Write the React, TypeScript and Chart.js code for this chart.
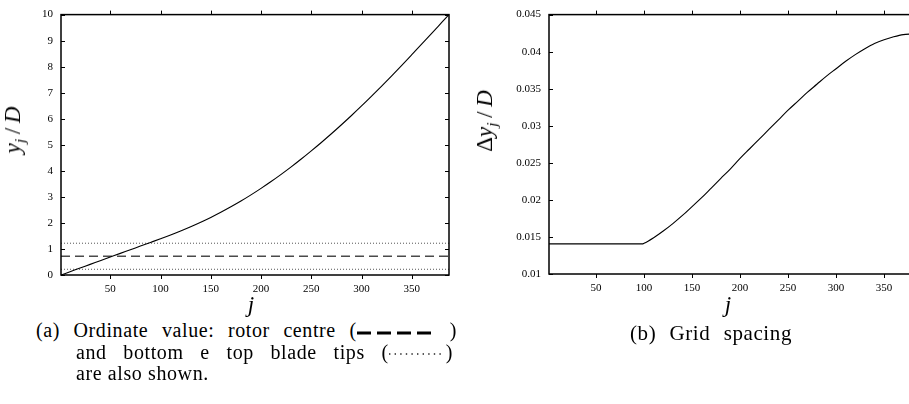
import React, { useEffect, useRef } from "react";
import { Chart, registerables } from "chart.js";

Chart.register(...registerables);

// Grid index samples and ordinate of each grid line, y_j / D
const J_ORDINATE = [
  1, 10, 20, 30, 40, 50, 60, 70, 80, 90, 100, 110, 120, 130, 140, 150, 160, 170, 180, 190,
  200, 210, 220, 230, 240, 250, 260, 270, 280, 290, 300, 310, 320, 330, 340, 350, 360, 370,
  380, 387,
];
const ORDINATE = [
  0, 0.127, 0.267, 0.408, 0.548, 0.689, 0.83, 0.97, 1.111, 1.251, 1.392, 1.537, 1.691, 1.854,
  2.027, 2.212, 2.409, 2.619, 2.841, 3.077, 3.326, 3.588, 3.864, 4.152, 4.454, 4.768, 5.09,
  5.423, 5.769, 6.125, 6.491, 6.868, 7.255, 7.649, 8.051, 8.46, 8.872, 9.288, 9.707, 10.0,
];

// Grid index samples and local spacing, Δy_j / D
const J_SPACING = [
  1, 10, 20, 30, 40, 50, 60, 70, 80, 90, 98, 100, 110, 120, 130, 140, 150, 160, 170, 180, 190,
  200, 210, 220, 230, 240, 250, 260, 270, 280, 290, 300, 310, 320, 330, 340, 350, 360, 370,
  380, 387,
];
const SPACING = [
  0.01406, 0.01406, 0.01406, 0.01406, 0.01406, 0.01406, 0.01406, 0.01406, 0.01406, 0.01406,
  0.01406, 0.01415, 0.0149, 0.0158, 0.0168, 0.0179, 0.0191, 0.0203, 0.0216, 0.0229, 0.0242,
  0.0256, 0.0269, 0.0282, 0.0295, 0.0308, 0.0321, 0.0333, 0.0345, 0.0356, 0.0367, 0.0377,
  0.0387, 0.0396, 0.0404, 0.0411, 0.0416, 0.042, 0.0423, 0.0424, 0.0425,
];

// Rotor centre and blade tip ordinates
const ROTOR_CENTRE = 0.72;
const BLADE_TIPS = [0.22, 1.22];

const J_RANGE = [1, 387];
const J_TICKS = [50, 100, 150, 200, 250, 300, 350];
const ORDINATE_RANGE = [0, 10];
const ORDINATE_TICKS = [0, 1, 2, 3, 4, 5, 6, 7, 8, 9, 10];
const SPACING_RANGE = [0.01, 0.045];
const SPACING_TICKS = [0.01, 0.015, 0.02, 0.025, 0.03, 0.035, 0.04, 0.045];

const SERIF = '"Liberation Serif", "DejaVu Serif", serif';

// Closed frame, x tics pointing out (mirrored on top), y tics pointing in (mirrored on right)
const frameTicks = {
  id: "frameTicks",
  afterDatasetsDraw(chart: any) {
    const { ctx, chartArea: a, scales } = chart;
    ctx.save();
    ctx.strokeStyle = "#000";
    ctx.lineWidth = 1;
    ctx.beginPath();
    for (const t of scales.x.ticks) {
      const px = Math.round(scales.x.getPixelForValue(t.value)) + 0.5;
      ctx.moveTo(px, a.bottom);
      ctx.lineTo(px, a.bottom + 4);
      ctx.moveTo(px, a.top);
      ctx.lineTo(px, a.top - 4);
    }
    for (const t of scales.y.ticks) {
      const py = Math.round(scales.y.getPixelForValue(t.value)) + 0.5;
      ctx.moveTo(a.left, py);
      ctx.lineTo(a.left + 4, py);
      ctx.moveTo(a.right, py);
      ctx.lineTo(a.right - 4, py);
    }
    ctx.stroke();
    ctx.lineWidth = 1.5;
    ctx.strokeRect(a.left, a.top, a.right - a.left, a.bottom - a.top);
    ctx.restore();
  },
};

type Area = { left: number; top: number; right: number; bottom: number };

function Panel(props: {
  width: number;
  height: number;
  area: Area;
  datasets: any[];
  yRange: number[];
  yTicks: number[];
  yFormat: (v: number) => string;
}) {
  const ref = useRef<HTMLCanvasElement>(null);
  const { width, height, area, datasets, yRange, yTicks, yFormat } = props;

  useEffect(() => {
    const tickFont = { family: SERIF, size: 11 };
    const chart = new Chart(ref.current as HTMLCanvasElement, {
      type: "line",
      data: { datasets },
      options: {
        animation: false,
        responsive: false,
        events: [],
        layout: { padding: { left: 0, top: area.top, right: width - area.right, bottom: 0 } },
        plugins: { legend: { display: false }, tooltip: { enabled: false } },
        scales: {
          x: {
            type: "linear",
            min: J_RANGE[0],
            max: J_RANGE[1],
            bounds: "data",
            grid: { display: false, drawTicks: false },
            border: { display: false },
            afterFit: (s: any) => {
              s.height = height - area.bottom;
            },
            afterBuildTicks: (s: any) => {
              s.ticks = J_TICKS.map((v) => ({ value: v }));
            },
            ticks: {
              autoSkip: false,
              maxRotation: 0,
              padding: 8,
              color: "#000",
              font: tickFont,
              callback: (v: any) => String(v),
            },
          },
          y: {
            type: "linear",
            min: yRange[0],
            max: yRange[1],
            bounds: "data",
            grid: { display: false, drawTicks: false },
            border: { display: false },
            afterFit: (s: any) => {
              s.width = area.left;
            },
            afterBuildTicks: (s: any) => {
              s.ticks = yTicks.map((v) => ({ value: v }));
            },
            ticks: {
              autoSkip: false,
              padding: 8,
              color: "#000",
              font: tickFont,
              callback: (v: any) => yFormat(Number(v)),
            },
          },
        },
      } as any,
      plugins: [frameTicks],
    });
    return () => chart.destroy();
  }, []);

  return (
    <canvas
      ref={ref}
      width={width}
      height={height}
      style={{ position: "absolute", left: 0, top: 0, width, height }}
    />
  );
}

const curve = (xs: number[], ys: number[]) => ({
  data: xs.map((x, i) => ({ x, y: ys[i] })),
  borderColor: "#000",
  borderWidth: 1.1,
  pointRadius: 0,
  cubicInterpolationMode: "monotone",
  fill: false,
});

const level = (y: number, color: string, width: number, dash: number[]) => ({
  data: [
    { x: J_RANGE[0], y },
    { x: J_RANGE[1], y },
  ],
  borderColor: color,
  borderWidth: width,
  borderDash: dash,
  pointRadius: 0,
  fill: false,
});

const ordinateDatasets = [
  curve(J_ORDINATE, ORDINATE),
  level(ROTOR_CENTRE, "#4a4a4a", 1.6, [9, 5]),
  ...BLADE_TIPS.map((y) => level(y, "#555", 1, [1, 2])),
];
const spacingDatasets = [curve(J_SPACING, SPACING)];

const sub: React.CSSProperties = { fontSize: "0.68em", verticalAlign: "-0.32em", fontStyle: "italic" };

function Title(props: { x: number; y: number; rotate?: boolean; children: React.ReactNode }) {
  return (
    <div
      style={{
        position: "absolute",
        left: props.x,
        top: props.y,
        fontSize: 23,
        lineHeight: "23px",
        whiteSpace: "nowrap",
        transform: `translate(-50%, -50%)${props.rotate ? " rotate(-90deg)" : ""}`,
      }}
    >
      {props.children}
    </div>
  );
}

function CaptionLine(props: {
  left: number;
  baseline: number;
  width?: number;
  size?: number;
  children: React.ReactNode;
}) {
  const size = props.size ?? 20;
  return (
    <div
      style={{
        position: "absolute",
        left: props.left,
        top: props.baseline - 0.8375 * size,
        width: props.width,
        height: size,
        fontSize: size,
        lineHeight: `${size}px`,
        letterSpacing: "0.6px",
        whiteSpace: "nowrap",
        display: "flex",
        justifyContent: props.width ? "space-between" : "flex-start",
        alignItems: "baseline",
      }}
    >
      {props.children}
    </div>
  );
}

export default function App() {
  return (
    <div
      style={{
        position: "absolute",
        left: 0,
        top: 0,
        width: 909,
        height: 404,
        overflow: "hidden",
        background: "#fff",
        color: "#000",
        fontFamily: SERIF,
      }}
    >
      <div style={{ position: "absolute", left: 0, top: 0, width: 470, height: 310 }}>
        <Panel
          width={470}
          height={310}
          area={{ left: 61, top: 9, right: 449, bottom: 275 }}
          datasets={ordinateDatasets}
          yRange={ORDINATE_RANGE}
          yTicks={ORDINATE_TICKS}
          yFormat={(v) => String(v)}
        />
      </div>
      <div style={{ position: "absolute", left: 470, top: 0, width: 470, height: 310 }}>
        <Panel
          width={470}
          height={310}
          area={{ left: 79, top: 9, right: 449.6, bottom: 274 }}
          datasets={spacingDatasets}
          yRange={SPACING_RANGE}
          yTicks={SPACING_TICKS}
          yFormat={(v) => String(Number(v.toFixed(3)))}
        />
      </div>

      <Title x={16} y={130} rotate>
        <i>y</i>
        <span style={sub}>j</span>
        <span>{"\u2009/\u2009"}</span>
        <i>D</i>
      </Title>
      <Title x={488} y={121} rotate>
        <span>Δ</span>
        <i>y</i>
        <span style={sub}>j</span>
        <span>{"\u2009/\u2009"}</span>
        <i>D</i>
      </Title>
      <Title x={251} y={304}>
        <i>j</i>
      </Title>
      <Title x={728} y={304}>
        <i>j</i>
      </Title>

      <CaptionLine left={36} baseline={337} width={421}>
        <span>(a)</span>
        <span>Ordinate</span>
        <span>value:</span>
        <span>rotor</span>
        <span>centre</span>
        <span>
          (
          <svg width={76} height={8} style={{ verticalAlign: "middle" }}>
            <line x1={0} y1={4} x2={76} y2={4} stroke="#000" strokeWidth={3} strokeDasharray="14 6" />
          </svg>
          <span style={{ display: "inline-block", width: 17 }} />)
        </span>
      </CaptionLine>
      <CaptionLine left={76} baseline={358.5} width={377}>
        <span>and</span>
        <span>bottom</span>
        <span>e</span>
        <span>top</span>
        <span>blade</span>
        <span>tips</span>
        <span>
          (
          <svg width={52} height={6} style={{ verticalAlign: "middle" }}>
            <line x1={0} y1={3} x2={52} y2={3} stroke="#222" strokeWidth={1.4} strokeDasharray="1.4 4.2" />
          </svg>
          <span style={{ display: "inline-block", width: 5 }} />)
        </span>
      </CaptionLine>
      <CaptionLine left={76} baseline={380}>
        <span>are also shown.</span>
      </CaptionLine>

      <CaptionLine left={630} baseline={341} width={162} size={21}>
        <span>(b)</span>
        <span>Grid</span>
        <span>spacing</span>
      </CaptionLine>
    </div>
  );
}
